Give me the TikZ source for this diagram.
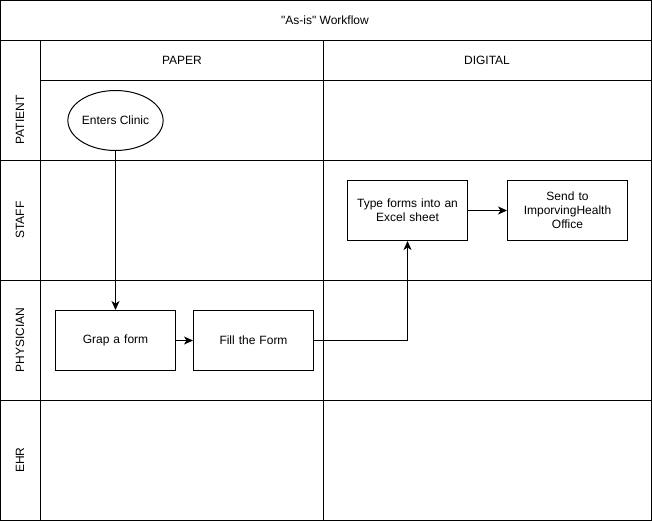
\documentclass[tikz,border=0pt]{standalone}
\usepackage{fontspec}
\setmainfont{Liberation Sans}[Ligatures=TeXOff]
\usetikzlibrary{shapes.geometric,arrows.meta}
\definecolor{line black}{RGB}{0, 0, 0}

\begin{document}
\begin{tikzpicture}[
        x=1pt, y=-1pt,
        line width=1pt,
        font=\fontsize{12}{14}\selectfont,
        lane/.style={draw=line black, fill=white},
        stepbox/.style={draw=line black, minimum width=120pt, minimum height=60pt,
            align=center, text width=112pt, inner sep=0pt},
        startnode/.style={draw=line black, ellipse, minimum width=90pt, minimum height=60pt,
            inner sep=0pt},
        flow/.style={draw=line black, -{Stealth[length=9pt,width=8pt,inset=2.5pt]}}
    ]
    \useasboundingbox (0,0) rectangle (652,522);

    % pool and lanes
    \draw[lane] (0.5,0.5) rectangle (651,520.5);
    \draw[lane] (0.5,40.5) rectangle (651,520.5);
    \foreach \y in {160.5,280.5,400.5}
        \draw (0.5,\y) -- (651,\y);
    \draw (40.5,40.5) -- (40.5,520.5);
    \draw (323.5,40.5) -- (323.5,520.5);
    \draw (40.5,80.5) -- (651,80.5);

    % titles
    \node (title) at (325,20) {"As-is" Workflow};
    \node (paper) at (182,60) {PAPER};
    \node (digital) at (487,60) {DIGITAL};
    \node[rotate=90] (patient) at (20,120) {PATIENT};
    \node[rotate=90] (staff) at (20,220) {STAFF};
    \node[rotate=90] (physician) at (20,340) {PHYSICIAN};
    \node[rotate=90] (ehr) at (20,460) {EHR};

    % steps
    \node[startnode] (clinic) at (115.5,120.5) {Enters Clinic};
    \node[stepbox] (grab) at (115.5,340.5) {Grap a form};
    \node[stepbox] (fill) at (253.5,340.5) {Fill the Form};
    \node[stepbox] (excel) at (407.5,210.5) {Type forms into an\\Excel sheet};
    \node[stepbox] (send) at (567.5,210.5) {Send to\\ImporvingHealth\\Office};

    % connectors
    \draw[flow] (clinic) -- (grab);
    \draw[flow] (grab) -- (fill);
    \draw[flow] (fill) -| (excel);
    \draw[flow] (excel) -- (send);
\end{tikzpicture}
\end{document}
